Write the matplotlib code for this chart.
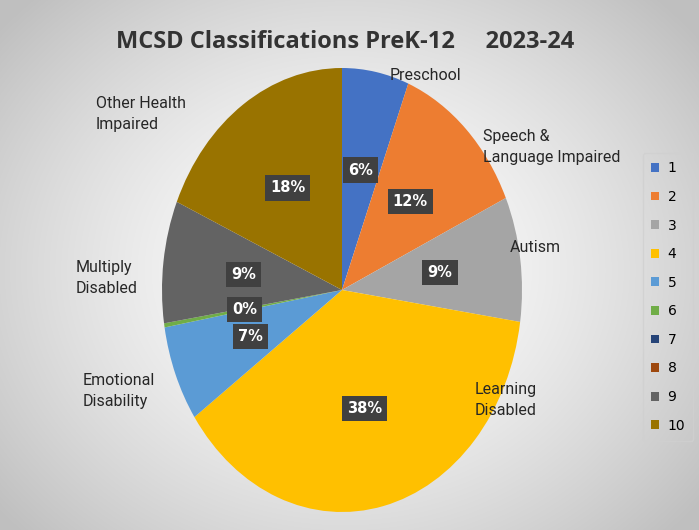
import numpy as np
import matplotlib.pyplot as plt
from matplotlib.patches import Patch

# data
legend_labels = ["1", "2", "3", "4", "5", "6", "7", "8", "9", "10"]
values = [6.0, 12.2, 9.1, 38.0, 7.0, 0.3, 0.0, 0.0, 8.9, 18.5]
colors = ["#4472C4", "#ED7D31", "#A5A5A5", "#FFC000", "#5B9BD5",
          "#70AD47", "#264478", "#9E480E", "#636363", "#997300"]
cat_names = ["Preschool", "Speech &\nLanguage Impaired", "Autism", "Learning\nDisabled",
             "Emotional\nDisability", "Multiply\nDisabled", "Other Health\nImpaired"]
# label anchor positions (figure pixels, left-aligned)
cat_pos = [(390, 76), (483, 147), (510, 247), (475, 400), (83, 391), (76, 278), (96, 114)]

W, H = 699, 530
fig = plt.figure(figsize=(W / 100, H / 100), dpi=100)

# radial gradient background
bg = fig.add_axes([0, 0, 1, 1])
yy, xx = np.mgrid[0:H, 0:W]
d = np.hypot((xx - 345) / 450, (yy - 270) / 380)
shade = 1 - 0.25 * np.clip(d, 0, 1) ** 1.5
bg.imshow(np.dstack([shade] * 3), extent=[0, W, H, 0], aspect="auto")
bg.set_axis_off()

cx, cy, rx, ry = 342, 290, 180, 222
ax = fig.add_axes([(cx - rx) / W, (H - cy - ry) / H, 2 * rx / W, 2 * ry / H])


def fmt(p):
    return f"{p:.0f}%" if p > 0.1 else ""


wedges, texts, autotexts = ax.pie(values, colors=colors, startangle=90, counterclock=False,
                                  autopct=fmt, pctdistance=0.55,
                                  wedgeprops=dict(edgecolor="none"))
ax.set_aspect("auto")
ax.set_xlim(-1, 1)
ax.set_ylim(-1, 1)
for t in autotexts:
    if t.get_text():
        t.set_color("white")
        t.set_fontweight("bold")
        t.set_fontsize(10.5)
        t.set_bbox(dict(boxstyle="square,pad=0.35", facecolor="#404040", edgecolor="none"))

for name, (px, py) in zip(cat_names, cat_pos):
    fig.text(px / W, 1 - py / H, name, ha="left", va="center", fontsize=11.5,
             color="#262626", linespacing=1.5, family="Roboto")

fig.text(345 / W, 1 - 42 / H, "MCSD Classifications PreK-12     2023-24", ha="center", va="center",
         fontsize=17, fontweight="bold", color="#333333", family="Open Sans")

handles = [Patch(facecolor=c, label=l) for c, l in zip(colors, legend_labels)]
leg = fig.legend(handles=handles, loc="center", bbox_to_anchor=(668 / W, 1 - 297 / H),
                 frameon=True, fontsize=10, handlelength=0.6, handleheight=0.6,
                 labelspacing=1.05, handletextpad=0.6, borderpad=0.6)
leg.get_frame().set_facecolor("none")
leg.get_frame().set_edgecolor("#d0d0d0")

fig.savefig("out.png", dpi=100)
